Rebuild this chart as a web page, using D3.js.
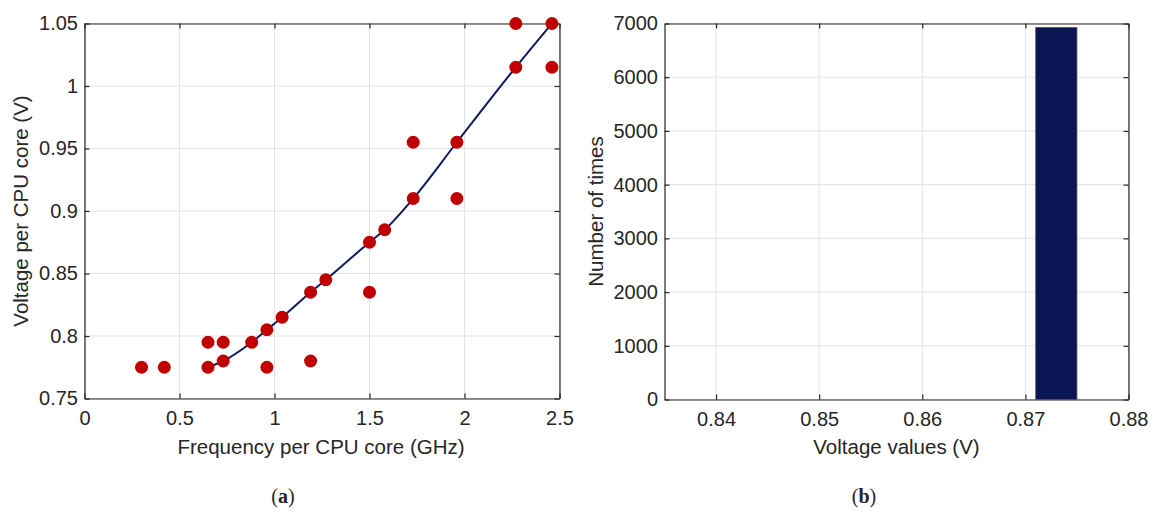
<!DOCTYPE html>
<html>
<head>
<meta charset="utf-8">
<script src="https://cdn.jsdelivr.net/npm/d3@7"></script>
<style>
  body { margin: 0; background: #fff; }
  svg text { font-family: "Liberation Sans", Arial, sans-serif; fill: #262626; }
</style>
</head>
<body>
<svg width="1153" height="516"></svg>
<script>
// Data

// (a) measured operating points: frequency (GHz) and voltage (V)
let pointFreq = [0.30, 0.42, 0.65, 0.65, 0.73, 0.73, 0.88, 0.96, 0.96, 1.04, 1.19, 1.19,
                 1.27, 1.50, 1.50, 1.58, 1.73, 1.73, 1.96, 1.96, 2.27, 2.27, 2.46, 2.46]
let pointVolt = [0.775, 0.775, 0.775, 0.795, 0.795, 0.780, 0.795, 0.805, 0.775, 0.815, 0.835, 0.780,
                 0.845, 0.875, 0.835, 0.885, 0.955, 0.910, 0.955, 0.910, 1.050, 1.015, 1.050, 1.015]

// (a) fitted curve
let fitFreq = [0.65, 0.73, 0.88, 0.96, 1.04, 1.19, 1.27, 1.50, 1.58, 1.73, 1.96, 2.27, 2.46]
let fitVolt = [0.775, 0.780, 0.795, 0.805, 0.815, 0.835, 0.845, 0.875, 0.885, 0.910, 0.955, 1.015, 1.050]

// (b) histogram bins of voltage values
let binEdges = [0.831, 0.835, 0.839, 0.843, 0.847, 0.851, 0.855, 0.859, 0.863, 0.867, 0.871, 0.875]
let binCounts = [0, 0, 0, 0, 0, 0, 0, 0, 0, 0, 6925]

// tick values
let aXTicks = [0, 0.5, 1, 1.5, 2, 2.5]
let aYTicks = [0.75, 0.8, 0.85, 0.9, 0.95, 1, 1.05]
let bXTicks = [0.84, 0.85, 0.86, 0.87, 0.88]
let bYTicks = [0, 1000, 2000, 3000, 4000, 5000, 6000, 7000]

let svg = d3.select('svg')

let axisColor = '#262626'
let gridColor = '#e3e3e3'
let fontSize = 20

// Draw one MATLAB style box with grid, inner ticks and labels

let drawFrame = (g, xScale, yScale, xTicks, yTicks, xFmt, yFmt) => {
    let [x0, x1] = xScale.range()
    let [y0, y1] = yScale.range()

    g.append('g').selectAll('line').data(xTicks).enter().append('line')
        .attr('x1', d => xScale(d)).attr('x2', d => xScale(d))
        .attr('y1', y0).attr('y2', y1)
        .attr('stroke', gridColor).attr('stroke-width', 1)
    g.append('g').selectAll('line').data(yTicks).enter().append('line')
        .attr('x1', x0).attr('x2', x1)
        .attr('y1', d => yScale(d)).attr('y2', d => yScale(d))
        .attr('stroke', gridColor).attr('stroke-width', 1)

    let xAxis = d3.axisBottom(xScale).tickValues(xTicks).tickFormat(xFmt)
                  .tickSizeInner(-5).tickSizeOuter(0).tickPadding(12)
    let yAxis = d3.axisLeft(yScale).tickValues(yTicks).tickFormat(yFmt)
                  .tickSizeInner(-5).tickSizeOuter(0).tickPadding(6.5)
    let xTop = d3.axisTop(xScale).tickValues(xTicks).tickFormat('')
                  .tickSizeInner(-5).tickSizeOuter(0)
    let yRight = d3.axisRight(yScale).tickValues(yTicks).tickFormat('')
                  .tickSizeInner(-5).tickSizeOuter(0)

    let styleAxis = sel => {
        sel.selectAll('path').attr('stroke', axisColor).attr('stroke-width', 1.2)
        sel.selectAll('line').attr('stroke', axisColor).attr('stroke-width', 1.2)
        sel.selectAll('text').style('font-size', fontSize + 'px')
           .style('font-family', '"Liberation Sans", Arial, sans-serif').attr('fill', axisColor)
    }

    g.append('g').attr('class', 'ax').attr('transform', 'translate(0,' + y0 + ')').call(xAxis).call(styleAxis)
    g.append('g').attr('class', 'ax').attr('transform', 'translate(' + x0 + ',0)').call(yAxis).call(styleAxis)
    g.append('g').attr('transform', 'translate(0,' + y1 + ')').call(xTop).call(styleAxis)
    g.append('g').attr('transform', 'translate(' + x1 + ',0)').call(yRight).call(styleAxis)
}

let fmtPlain = d => String(+d.toFixed(3))

// (a) scatter with fitted curve

let gA = svg.append('g')
let xA = d3.scaleLinear().domain([0, 2.5]).range([84.5, 559.5])
let yA = d3.scaleLinear().domain([0.75, 1.05]).range([398.5, 23.5])

drawFrame(gA, xA, yA, aXTicks, aYTicks, fmtPlain, fmtPlain)

let fitLine = d3.line()
    .x(d => xA(d[0]))
    .y(d => yA(d[1]))
    .curve(d3.curveMonotoneX)

gA.append('path')
    .datum(d3.zip(fitFreq, fitVolt))
    .attr('d', fitLine)
    .attr('fill', 'none')
    .attr('stroke', '#0e1b5e')
    .attr('stroke-width', 2)

gA.append('g').selectAll('circle')
    .data(d3.zip(pointFreq, pointVolt))
    .enter()
    .append('circle')
    .attr('cx', d => xA(d[0]))
    .attr('cy', d => yA(d[1]))
    .attr('r', 6.5)
    .attr('fill', '#c00000')

gA.append('text')
    .attr('x', (84.5 + 559.5) / 2 - 1).attr('y', 454)
    .attr('text-anchor', 'middle')
    .style('font-size', '20.5px')
    .text('Frequency per CPU core (GHz)')

gA.append('text')
    .attr('transform', 'translate(28,' + (23.5 + 398.5) / 2 + ') rotate(-90)')
    .attr('text-anchor', 'middle')
    .style('font-size', '20.5px')
    .text('Voltage per CPU core (V)')

// (b) histogram

let gB = svg.append('g')
let xB = d3.scaleLinear().domain([0.835, 0.88]).range([664.5, 1128.5])
let yB = d3.scaleLinear().domain([0, 7000]).range([399.5, 23.5])

let bins = binCounts.map((c, i) => ({ x0: binEdges[i], x1: binEdges[i + 1], n: c }))
                    .filter(b => b.x1 > xB.domain()[0])

drawFrame(gB, xB, yB, bXTicks, bYTicks, d3.format('.2f'), d3.format('d'))

gB.append('g').selectAll('rect')
    .data(bins)
    .enter()
    .append('rect')
    .attr('x', d => xB(Math.max(d.x0, xB.domain()[0])))
    .attr('width', d => xB(d.x1) - xB(Math.max(d.x0, xB.domain()[0])))
    .attr('y', d => yB(d.n))
    .attr('height', d => yB(0) - yB(d.n))
    .attr('fill', '#0c1554')
    .attr('stroke', d => d.n > 0 ? '#555' : '#1a1a1a')
    .attr('stroke-width', d => d.n > 0 ? 0.8 : 1.5)

gB.append('text')
    .attr('x', (664.5 + 1128.5) / 2).attr('y', 454)
    .attr('text-anchor', 'middle')
    .style('font-size', '20.5px')
    .text('Voltage values (V)')

gB.append('text')
    .attr('transform', 'translate(603,' + (23.5 + 399.5) / 2 + ') rotate(-90)')
    .attr('text-anchor', 'middle')
    .style('font-size', '20.5px')
    .text('Number of times')

// captions

let caption = (x, letter) => {
    let t = svg.append('text')
        .attr('x', x).attr('y', 503)
        .attr('text-anchor', 'middle')
        .style('font-family', '"Liberation Serif", "DejaVu Serif", serif')
        .style('font-size', '20px')
        .attr('fill', '#000')
    t.append('tspan').text('(')
    t.append('tspan').style('font-weight', 'bold').text(letter)
    t.append('tspan').text(')')
}
caption(283, 'a')
caption(864, 'b')
</script>
</body>
</html>
